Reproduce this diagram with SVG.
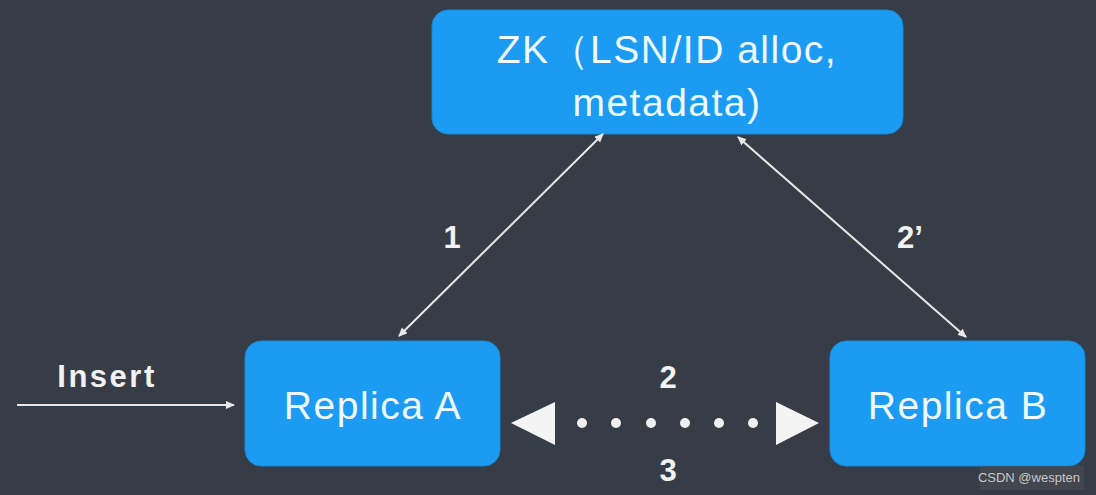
<svg xmlns="http://www.w3.org/2000/svg" width="1096" height="495" viewBox="0 0 1096 495">
<style>
.box{fill:#1b9cf2;stroke:#1488d6;stroke-width:1}
.nt{font-family:"Liberation Sans",Arial,sans-serif;font-size:39px;letter-spacing:1.5px;fill:#eef8ff;text-anchor:middle}
.lb{font-family:"Liberation Sans",Arial,sans-serif;font-size:31px;font-weight:bold;fill:#f2f2f2;text-anchor:middle}
.ln{stroke:#e8e8e8;stroke-width:2;fill:none}
</style>
<defs>
<marker id="ah" markerWidth="10" markerHeight="10" refX="8" refY="4" orient="auto-start-reverse" markerUnits="userSpaceOnUse">
<path d="M0,0 L9,4 L0,8 Z" fill="#e8e8e8"/>
</marker>
</defs>
<rect width="1096" height="495" fill="#373d47"/>
<g id="zk">
<rect class="box" x="432" y="10" width="471" height="124" rx="16"/>
<text class="nt" x="667" y="63">ZK（LSN/ID alloc,</text>
<text class="nt" x="667" y="116">metadata)</text>
</g>
<g id="replicaA">
<rect class="box" x="245" y="341" width="255" height="125" rx="16"/>
<text class="nt" x="373" y="419">Replica A</text>
</g>
<g id="replicaB">
<rect class="box" x="830" y="341" width="255" height="125" rx="16"/>
<text class="nt" x="958" y="419">Replica B</text>
</g>
<g id="connectors">
<line class="ln" x1="17" y1="405" x2="234" y2="405" marker-end="url(#ah)"/>
<text class="lb" x="107" y="387" font-size="35" letter-spacing="2.5">Insert</text>
<line class="ln" x1="603" y1="134" x2="399" y2="336" marker-start="url(#ah)" marker-end="url(#ah)"/>
<text class="lb" x="452" y="248">1</text>
<line class="ln" x1="738" y1="137" x2="966" y2="337" marker-start="url(#ah)" marker-end="url(#ah)"/>
<text class="lb" x="910" y="248">2’</text>
<polygon points="511,423 555,402 555,445" fill="#f4f4f4"/>
<polygon points="819,423 776,402 776,445" fill="#f4f4f4"/>
<g fill="#f0f0f0">
<circle cx="582" cy="423" r="5"/>
<circle cx="616" cy="423" r="5"/>
<circle cx="651" cy="423" r="5"/>
<circle cx="685" cy="423" r="5"/>
<circle cx="719" cy="423" r="5"/>
<circle cx="753" cy="423" r="5"/>
</g>
<text class="lb" x="668" y="388">2</text>
<text class="lb" x="668" y="481">3</text>
</g>
<g id="watermark">
<rect x="980" y="466" width="104" height="24" fill="#474c55" opacity="0.6"/>
<text x="1080" y="482" font-family="Liberation Sans,Arial,sans-serif" font-size="13" fill="#c8c8c8" text-anchor="end">CSDN @wespten</text>
</g>
</svg>
